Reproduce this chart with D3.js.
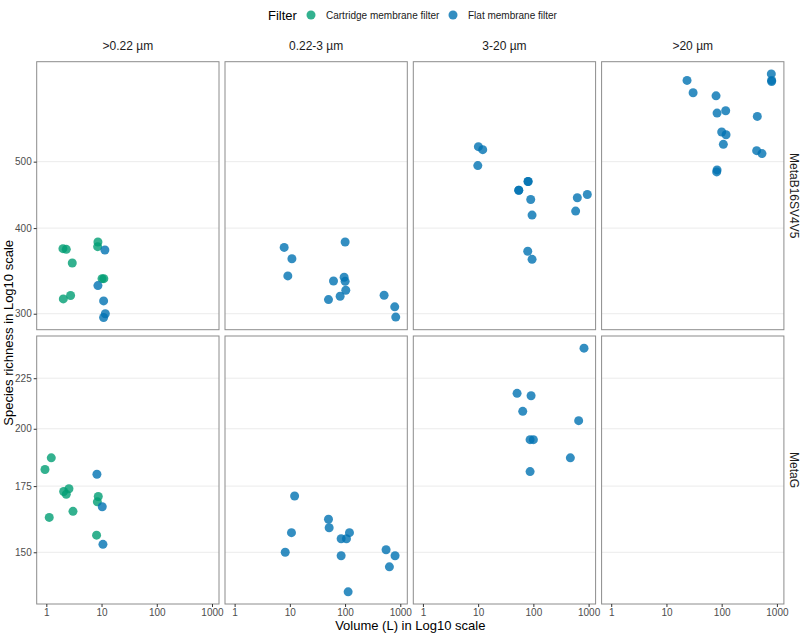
<!DOCTYPE html>
<html>
<head>
<meta charset="utf-8">
<script src="https://cdn.jsdelivr.net/npm/d3@7"></script>
<style>
  body { margin: 0; background: #fff; }
  text { font-family: "Liberation Sans", Arial, Helvetica, sans-serif; }
</style>
</head>
<body>
<svg id="chart" width="800" height="634"></svg>
<script>
// ---- data ----
const sizeFractions = [">0.22 \u00b5m", "0.22-3 \u00b5m", "3-20 \u00b5m", ">20 \u00b5m"];
const markers = ["MetaB16SV4V5", "MetaG"];
const filterTypes = ["Cartridge membrane filter", "Flat membrane filter"];
const filterColors = ["#009E73", "#0072B2"];
const xTicks = [1, 10, 100, 1000];
const yTicksMetaB = [300, 400, 500];
const yTicksMetaG = [150, 175, 200, 225];

// rows: [volume (L), species richness, filter index (0 = cartridge, 1 = flat)]
const metaB_022 = [
  [2.0, 373.3, 0], [2.3, 372.4, 0], [2.95, 355.7, 0], [2.03, 315.3, 0], [2.75, 318.9, 0],
  [8.6, 381.7, 0], [8.5, 375.8, 0], [10.2, 337.5, 0], [11.0, 337.5, 0],
  [11.5, 371.6, 1], [8.6, 329.7, 1], [10.9, 313.2, 1], [11.7, 300.0, 1], [10.9, 296.2, 1]
];
const metaB_022_3 = [
  [7.9, 374.9, 1], [10.9, 360.9, 1], [9.2, 340.6, 1], [100.3, 381.7, 1], [61.7, 334.9, 1],
  [96.2, 339.1, 1], [100.3, 334.5, 1], [103, 324.6, 1], [81.4, 318.1, 1], [50.1, 314.6, 1],
  [509, 319.2, 1], [793, 307.0, 1], [827, 296.6, 1]
];
const metaB_3_20 = [
  [10.1, 525.9, 1], [12.1, 520.6, 1], [9.86, 493.4, 1], [80.2, 467.7, 1], [80.2, 467.7, 1],
  [54.4, 454.3, 1], [54.4, 454.3, 1], [89.6, 440.4, 1], [94.7, 417.9, 1], [625, 442.9, 1],
  [948, 447.8, 1], [583, 423.5, 1], [79.1, 370.0, 1], [94.7, 360.1, 1]
];
const metaB_20 = [
  [23.6, 656.9, 1], [30.4, 630.2, 1], [79.1, 623.7, 1], [82.5, 588.6, 1], [118.3, 593.2, 1],
  [442, 582.1, 1], [100.1, 552.3, 1], [120, 547.4, 1], [107.3, 530.0, 1], [430, 518.8, 1],
  [537, 513.7, 1], [82.5, 486.3, 1], [81.3, 483.1, 1], [792, 671.5, 1], [803, 656.9, 1],
  [803, 654.6, 1]
];
const metaG_022 = [
  [0.946, 181.9, 0], [1.23, 186.9, 0], [1.13, 162.7, 0], [2.06, 172.8, 0], [2.3, 171.7, 0],
  [2.57, 173.9, 0], [3.04, 165.0, 0], [8.13, 156.1, 0], [8.4, 168.7, 0], [8.72, 170.8, 0],
  [8.25, 179.9, 1], [10.3, 166.8, 1], [10.6, 152.8, 1]
];
const metaG_022_3 = [
  [12.2, 171.0, 1], [10.7, 157.0, 1], [8.25, 150.0, 1], [50.1, 162.0, 1], [51.5, 158.8, 1],
  [84.9, 154.8, 1], [106, 154.8, 1], [120.2, 157.0, 1], [84.9, 148.8, 1], [113.6, 136.8, 1],
  [553, 150.9, 1], [804, 148.8, 1], [635, 145.0, 1]
];
const metaG_3_20 = [
  [826, 241.3, 1], [50.7, 217.2, 1], [90.9, 216.0, 1], [64.2, 208.3, 1], [661, 203.8, 1],
  [87.2, 195.0, 1], [100.1, 195.0, 1], [467.5, 186.9, 1], [87.2, 181.0, 1]
];
const metaG_20 = [];

const panelData = [
  [metaB_022, metaB_022_3, metaB_3_20, metaB_20],
  [metaG_022, metaG_022_3, metaG_3_20, metaG_20]
];
const rowTicks = [yTicksMetaB, yTicksMetaG];

// ---- layout ----
const svg = d3.select("#chart");
const plotLeft = 36.7, panelW = 182.3, gapX = 6.0;
const panelTops = [61.7, 336], panelH = 268;

// log scale with ggplot-like 5% expansion
function expandedLogDomain(vals) {
  const lo = Math.log10(d3.min(vals)), hi = Math.log10(d3.max(vals));
  const pad = (hi - lo) * 0.05;
  return [Math.pow(10, lo - pad), Math.pow(10, hi + pad)];
}
const allX = panelData.flat(2).map(d => d[0]);
const xDomain = expandedLogDomain(allX);

const x = d3.scaleLog().domain(xDomain).range([0, panelW]);

// legend
const legend = svg.append("g");
legend.append("text").attr("x", 268).attr("y", 15).attr("dy", "0.35em")
  .attr("font-size", 13).attr("fill", "#000").text("Filter");
const legendX = [[311, 326], [453, 468]];
filterTypes.forEach((f, i) => {
  legend.append("circle").attr("cx", legendX[i][0]).attr("cy", 15).attr("r", 4.5)
    .attr("fill", filterColors[i]).attr("fill-opacity", 0.8);
  legend.append("text").attr("x", legendX[i][1]).attr("y", 15).attr("dy", "0.35em")
    .attr("font-size", 10).attr("fill", "#1a1a1a").text(f);
});

markers.forEach((m, r) => {
  const rowVals = panelData[r].flat().map(d => d[1]);
  const y = d3.scaleLog().domain(expandedLogDomain(rowVals)).range([panelH, 0]);
  const top = panelTops[r];

  sizeFractions.forEach((sf, c) => {
    const left = plotLeft + c * (panelW + gapX);
    const g = svg.append("g").attr("transform", `translate(${left},${top})`);

    g.append("rect").attr("width", panelW).attr("height", panelH).attr("fill", "#fff");

    // horizontal grid
    g.selectAll("line.grid").data(rowTicks[r]).enter().append("line")
      .attr("x1", 0).attr("x2", panelW)
      .attr("y1", d => y(d)).attr("y2", d => y(d))
      .attr("stroke", "#ebebeb").attr("stroke-width", 1);

    // points
    g.selectAll("circle").data(panelData[r][c]).enter().append("circle")
      .attr("cx", d => x(d[0])).attr("cy", d => y(d[1])).attr("r", 4.5)
      .attr("fill", d => filterColors[d[2]]).attr("fill-opacity", 0.8);

    // border
    g.append("rect").attr("width", panelW).attr("height", panelH)
      .attr("fill", "none").attr("stroke", "#8c8c8c").attr("stroke-width", 1);

    // y axis on first column
    if (c === 0) {
      const ya = g.append("g").call(d3.axisLeft(y).tickValues(rowTicks[r]).tickFormat(d3.format("d")).tickSize(3).tickPadding(2));
      ya.select(".domain").remove();
      ya.selectAll("line").attr("stroke", "#333");
      ya.selectAll("text").attr("fill", "#4d4d4d").attr("font-size", 10)
        .attr("font-family", "Liberation Sans, Arial, sans-serif");
    }
    // x axis on bottom row
    if (r === markers.length - 1) {
      const xa = g.append("g").attr("transform", `translate(0,${panelH})`)
        .call(d3.axisBottom(x).tickValues(xTicks).tickFormat(d3.format("d")).tickSize(3).tickPadding(2));
      xa.select(".domain").remove();
      xa.selectAll("line").attr("stroke", "#333");
      xa.selectAll("text").attr("fill", "#4d4d4d").attr("font-size", 10)
        .attr("font-family", "Liberation Sans, Arial, sans-serif");
    }
    // strip labels on top
    if (r === 0) {
      svg.append("text").attr("x", left + panelW / 2).attr("y", 46).attr("dy", "0.35em")
        .attr("text-anchor", "middle").attr("font-size", 12).attr("fill", "#1a1a1a").text(sf);
    }
  });

  // right strip labels
  const cy = top + panelH / 2;
  svg.append("text").attr("transform", `translate(794,${cy}) rotate(90)`)
    .attr("text-anchor", "middle").attr("dy", "0.35em")
    .attr("font-size", 12).attr("fill", "#1a1a1a").text(m);
});

// axis titles
const plotRight = plotLeft + 4 * panelW + 3 * gapX;
svg.append("text").attr("x", (plotLeft + plotRight) / 2).attr("y", 625).attr("dy", "0.35em")
  .attr("text-anchor", "middle").attr("font-size", 13).attr("fill", "#000")
  .text("Volume (L) in Log10 scale");
svg.append("text").attr("transform", `translate(8,${(panelTops[0] + panelTops[1] + panelH) / 2}) rotate(-90)`)
  .attr("text-anchor", "middle").attr("dy", "0.35em").attr("font-size", 13).attr("fill", "#000")
  .text("Species richness in Log10 scale");
</script>
</body>
</html>
